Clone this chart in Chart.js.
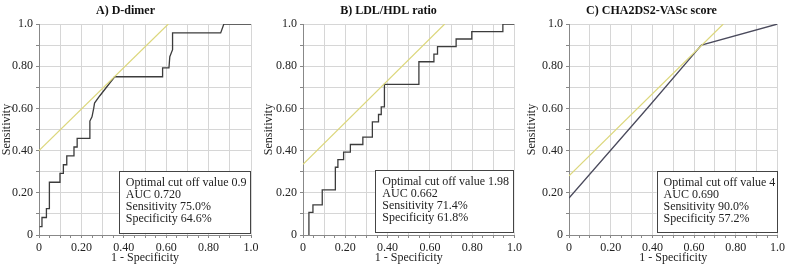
<!DOCTYPE html>
<html>
<head>
<meta charset="utf-8">
<script src="https://cdn.jsdelivr.net/npm/chart.js@4.4.1/dist/chart.umd.min.js"></script>
<style>
  body { margin: 0; background: #fff; }
  #wrap { position: relative; width: 788px; height: 268px; }
  .panel { position: absolute; top: 0; height: 268px; }
</style>
</head>
<body>
<div id="wrap">
  <div class="panel" style="left:0;width:262px"><canvas id="chartA"></canvas></div>
  <div class="panel" style="left:262px;width:263px"><canvas id="chartB"></canvas></div>
  <div class="panel" style="left:525px;width:263px"><canvas id="chartC"></canvas></div>
</div>
<script>
// A) D-dimer ROC curve (1 - specificity, sensitivity)
const dDimerX = [0.003, 0.014, 0.014, 0.035, 0.035, 0.049, 0.049, 0.099, 0.099, 0.115, 0.115, 0.131, 0.131, 0.165, 0.165, 0.18, 0.18, 0.24, 0.24, 0.25, 0.258, 0.262, 0.287, 0.357, 0.583, 0.583, 0.613, 0.617, 0.63, 0.63, 0.857, 0.872, 1.0];
const dDimerY = [0.04, 0.04, 0.083, 0.083, 0.125, 0.125, 0.25, 0.25, 0.292, 0.292, 0.333, 0.333, 0.375, 0.375, 0.417, 0.417, 0.458, 0.458, 0.54, 0.56, 0.6, 0.625, 0.66, 0.75, 0.75, 0.792, 0.792, 0.845, 0.878, 0.958, 0.958, 1.0, 1.0];
const dDimerTangentX = [0, 0.61];
const dDimerTangentY = [0.40, 1.0];
const dDimerText = ["Optimal cut off value 0.9", "AUC 0.720", "Sensitivity 75.0%", "Specificity 64.6%"];

// B) LDL/HDL ratio
const ldlX = [0.028, 0.028, 0.047, 0.047, 0.091, 0.091, 0.153, 0.153, 0.165, 0.165, 0.192, 0.192, 0.224, 0.224, 0.283, 0.283, 0.328, 0.328, 0.357, 0.357, 0.37, 0.37, 0.385, 0.385, 0.548, 0.548, 0.619, 0.619, 0.636, 0.636, 0.724, 0.724, 0.798, 0.798, 0.945, 0.945, 1.0];
const ldlY = [0, 0.107, 0.107, 0.143, 0.143, 0.214, 0.214, 0.321, 0.321, 0.357, 0.357, 0.393, 0.393, 0.429, 0.429, 0.464, 0.464, 0.536, 0.536, 0.571, 0.571, 0.607, 0.607, 0.714, 0.714, 0.821, 0.821, 0.857, 0.857, 0.893, 0.893, 0.929, 0.929, 0.964, 0.964, 1.0, 1.0];
const ldlTangentX = [0, 0.67];
const ldlTangentY = [0.335, 1.0];
const ldlText = ["Optimal cut off value 1.98", "AUC 0.662", "Sensitivity 71.4%", "Specificity 61.8%"];

// C) CHA2DS2-VASc score
const chaX = [0, 0.388, 0.635, 1.0];
const chaY = [0.175, 0.615, 0.90, 1.0];
const chaTangentX = [0, 0.74];
const chaTangentY = [0.28, 1.0];
const chaText = ["Optimal cut off value 4", "AUC 0.690", "Sensitivity 90.0%", "Specificity 57.2%"];

const titles = ["A) D-dimer", "B) LDL/HDL ratio", "C) CHA2DS2-VASc score"];

const serif = "'Liberation Serif', 'Times New Roman', serif";
const pts = (xs, ys) => xs.map((x, i) => ({ x: x, y: ys[i] }));
const step = (v, s) => Math.round(v * 100) % s === 0;

const infoBox = {
  id: "infoBox",
  afterDatasetsDraw(chart, args, o) {
    const { ctx } = chart;
    const x = chart.scales.x, y = chart.scales.y;
    const l = x.getPixelForValue(o.x0), r = x.getPixelForValue(o.x1);
    const t = y.getPixelForValue(o.y1), b = y.getPixelForValue(o.y0);
    ctx.save();
    ctx.fillStyle = "#fff";
    ctx.fillRect(l, t, r - l, b - t);
    ctx.strokeStyle = "#444";
    ctx.lineWidth = 1;
    ctx.strokeRect(Math.round(l) + 0.5, Math.round(t) + 0.5, Math.round(r - l) - 1, Math.round(b - t));
    ctx.fillStyle = "#222";
    ctx.font = "12px " + serif;
    ctx.textBaseline = "middle";
    o.lines.forEach((s, i) => ctx.fillText(s, l + 7, t + 11.5 + i * 12.2));
    ctx.restore();
  },
};

function makeChart(id, title, curve, tangent, curveColor, box, yWidth, padRight) {
  new Chart(document.getElementById(id), {
    type: "scatter",
    data: {
      datasets: [
        { data: tangent, showLine: true, borderColor: "#dcd77c", borderWidth: 1.2, pointRadius: 0 },
        { data: curve, showLine: true, borderColor: curveColor, borderWidth: 1.3, pointRadius: 0 },
      ],
    },
    plugins: [infoBox],
    options: {
      responsive: true,
      maintainAspectRatio: false,
      animation: false,
      layout: { padding: { right: padRight } },
      plugins: {
        legend: { display: false },
        tooltip: { enabled: false },
        title: {
          display: true,
          text: title,
          color: "#111",
          font: { family: serif, size: 12, weight: "bold" },
          padding: { top: 4, bottom: 5.6 },
        },
        infoBox: box,
      },
      scales: {
        x: {
          type: "linear",
          min: 0,
          max: 1,
          afterFit: (s) => { s.height = 33; },
          border: { color: "#888" },
          grid: {
            color: (c) => (step(c.tick.value, 10) ? "#d6d6d6" : "rgba(0,0,0,0)"),
            tickColor: "#888",
            tickLength: 3,
          },
          ticks: {
            stepSize: 0.05,
            autoSkip: false,
            maxRotation: 0,
            padding: 3,
            color: "#222",
            font: { family: serif, size: 12 },
            callback: (v) => (v === 0 ? "0" : step(v, 100) ? "1.0" : step(v, 20) ? v.toFixed(2) : ""),
          },
          title: {
            display: true,
            text: "1 - Specificity",
            color: "#222",
            font: { family: serif, size: 12 },
            padding: { top: 0, bottom: 2.5 },
          },
        },
        y: {
          type: "linear",
          min: 0,
          max: 1,
          afterFit: (s) => { s.width = yWidth; },
          border: { color: "#888" },
          grid: { color: "#d6d6d6", tickColor: "#888", tickLength: 3 },
          ticks: {
            stepSize: 0.1,
            padding: 3,
            color: "#222",
            font: { family: serif, size: 12 },
            callback: (v) => (v === 0 ? "0" : step(v, 100) ? "1.0" : step(v, 20) ? v.toFixed(2) : ""),
          },
          title: {
            display: true,
            text: "Sensitivity",
            color: "#222",
            font: { family: serif, size: 12 },
            padding: { top: 0, bottom: 0 },
          },
        },
      },
    },
  });
}

makeChart("chartA", titles[0], pts(dDimerX, dDimerY), pts(dDimerTangentX, dDimerTangentY), "#3c3c3c",
  { x0: 0.376, x1: 1.0, y0: 0.01, y1: 0.303, lines: dDimerText }, 39, 11);
makeChart("chartB", titles[1], pts(ldlX, ldlY), pts(ldlTangentX, ldlTangentY), "#3c3c3c",
  { x0: 0.342, x1: 1.0, y0: 0.014, y1: 0.308, lines: ldlText }, 41, 10);
makeChart("chartC", titles[2], pts(chaX, chaY), pts(chaTangentX, chaTangentY), "#4a4a5c",
  { x0: 0.42, x1: 1.0, y0: 0.014, y1: 0.303, lines: chaText }, 44, 10);
</script>
</body>
</html>
